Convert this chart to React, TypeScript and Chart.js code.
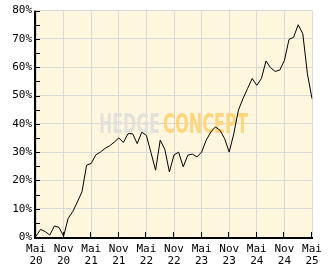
import React, { useEffect, useRef } from 'react';
import { Chart, registerables } from 'chart.js';

Chart.register(...registerables);

const categories = [
  'Mai 20', 'Jun 20', 'Jul 20', 'Aug 20', 'Sep 20', 'Okt 20', 'Nov 20', 'Dez 20',
  'Jan 21', 'Feb 21', 'Mär 21', 'Apr 21', 'Mai 21', 'Jun 21', 'Jul 21', 'Aug 21', 'Sep 21', 'Okt 21', 'Nov 21', 'Dez 21',
  'Jan 22', 'Feb 22', 'Mär 22', 'Apr 22', 'Mai 22', 'Jun 22', 'Jul 22', 'Aug 22', 'Sep 22', 'Okt 22', 'Nov 22', 'Dez 22',
  'Jan 23', 'Feb 23', 'Mär 23', 'Apr 23', 'Mai 23', 'Jun 23', 'Jul 23', 'Aug 23', 'Sep 23', 'Okt 23', 'Nov 23', 'Dez 23',
  'Jan 24', 'Feb 24', 'Mär 24', 'Apr 24', 'Mai 24', 'Jun 24', 'Jul 24', 'Aug 24', 'Sep 24', 'Okt 24', 'Nov 24', 'Dez 24',
  'Jan 25', 'Feb 25', 'Mär 25', 'Apr 25', 'Mai 25',
];

const performance = [
  0.3, 2.7, 1.9, 0.7, 3.9, 3.4, 0.3, 6.6,
  9.0, 12.4, 16.0, 25.4, 26.0, 29.0, 30.0, 31.3, 32.2, 33.5, 35.0, 33.4,
  36.5, 36.5, 33.0, 37.0, 35.9, 29.8, 23.6, 34.2, 31.0, 23.0, 29.0, 30.0,
  24.8, 28.9, 29.3, 28.3, 30.0, 34.2, 37.1, 38.9, 37.7, 34.8, 30.0, 36.5,
  44.8, 48.9, 52.5, 56.0, 53.6, 56.0, 62.2, 59.8, 58.5, 59.0, 62.4, 69.8,
  70.6, 75.0, 71.8, 57.7, 48.9,
];

const yMin = 0;
const yMax = 80;
const yStep = 10;
const yMinorStep = 5;
const xLabelEvery = 6;
const watermarkLeft = 'HEDGE';
const watermarkRight = 'CONCEPT';

const FONT = '"DejaVu Sans Mono", monospace';

const decorPlugin = {
  id: 'decor',
  beforeDraw(chart: any) {
    const { ctx, chartArea: a } = chart;
    ctx.save();
    ctx.fillStyle = '#fff6de';
    ctx.fillRect(a.left, a.top, a.right - a.left, a.bottom - a.top);
    ctx.restore();
  },
  beforeDatasetsDraw(chart: any) {
    const { ctx } = chart;
    ctx.save();
    ctx.font = 'bold 26px "DejaVu Sans", sans-serif';
    ctx.textBaseline = 'alphabetic';
    const drawFit = (text: string, x: number, w: number, color: string) => {
      const m = ctx.measureText(text).width;
      ctx.save();
      ctx.translate(x, 133);
      ctx.scale(w / m, 1);
      ctx.fillStyle = color;
      ctx.fillText(text, 0, 0);
      ctx.restore();
    };
    drawFit(watermarkLeft, 99, 61, '#e3e1dc');
    drawFit(watermarkRight, 163, 85, '#ffd67e');
    ctx.restore();
  },
  afterDraw(chart: any) {
    const { ctx, chartArea: a } = chart;
    const ys = chart.scales.y;
    const xs = chart.scales.x;
    ctx.save();
    ctx.fillStyle = '#000';
    ctx.fillRect(a.left - 2, a.top, 2, a.bottom - a.top + 2);
    ctx.fillRect(a.left - 2, a.bottom, a.right - a.left + 3, 2);
    for (let v = yMin; v <= yMax; v += yMinorStep) {
      const y = Math.round(ys.getPixelForValue(v));
      ctx.fillRect(a.left, y, 4, 1);
    }
    for (let i = 0; i < categories.length; i += xLabelEvery) {
      const x = Math.round(xs.getPixelForValue(i));
      ctx.fillRect(x - 1, a.bottom - 5, 1, 5);
    }
    ctx.restore();
  },
};

export default function App() {
  const ref = useRef<HTMLCanvasElement | null>(null);
  useEffect(() => {
    document.body.style.margin = '0';
    const canvas = ref.current!;
    const chart = new Chart(canvas, {
      type: 'line',
      data: {
        labels: categories,
        datasets: [
          {
            data: performance,
            borderColor: '#000',
            borderWidth: 1,
            pointRadius: 0,
            tension: 0,
            fill: false,
          },
        ],
      },
      options: {
        responsive: false,
        animation: false,
        events: [],
        layout: { padding: { top: 10, right: 20, left: 0, bottom: 0 } },
        plugins: { legend: { display: false }, tooltip: { enabled: false } },
        scales: {
          x: {
            type: 'category',
            offset: false,
            border: { display: false },
            grid: {
              drawTicks: false,
              color: '#d9d9d9',
              lineWidth: 1,
            },
            ticks: {
              autoSkip: false,
              maxRotation: 0,
              minRotation: 0,
              padding: 6,
              color: '#000',
              font: { family: FONT, size: 11, lineHeight: 1.1 },
              callback: (_v: any, i: number) => (i % xLabelEvery === 0 ? categories[i].split(' ') : null),
            },
            afterFit: (s: any) => {
              s.height = 32;
            },
          },
          y: {
            min: yMin,
            max: yMax,
            border: { display: false },
            grid: { drawTicks: false, color: '#d9d9d9', lineWidth: 1 },
            ticks: {
              stepSize: yStep,
              padding: 4,
              color: '#000',
              font: { family: FONT, size: 11 },
              callback: (v: any) => `${v}%`,
            },
            afterFit: (s: any) => {
              s.width = 36;
            },
          },
        },
      },
      plugins: [decorPlugin],
    } as any);
    return () => chart.destroy();
  }, []);
  return <canvas ref={ref} width={332} height={269} style={{ display: 'block' }} />;
}
